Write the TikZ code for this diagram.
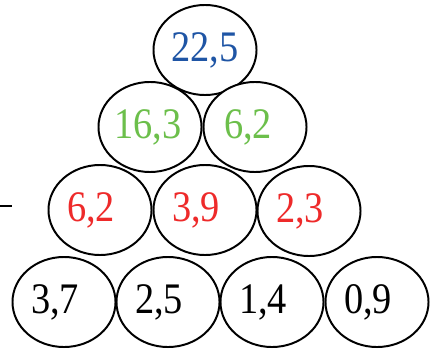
\documentclass[tikz,border=0pt]{standalone}
\usepackage{fontspec}
\setmainfont{Liberation Serif}
\newfontfamily\numfont[FakeStretch=0.88]{Liberation Serif}
\usepackage{xcolor}
\definecolor{topblue}{HTML}{1F55A5}
\definecolor{midgreen}{HTML}{6CBF4B}
\definecolor{lowred}{HTML}{EE2A2A}
\usepackage{tikz}
\usetikzlibrary{shapes.geometric}
\tikzset{
    cell/.style = {ellipse, draw=black, line width=1.4pt, fill=white,
                   minimum width=2.575cm, minimum height=2.25cm, inner sep=0pt},
    num/.style = {font=\numfont\fontsize{31}{32}\selectfont, inner sep=0pt, xshift=-0.22cm},
}

\begin{document}
\begin{tikzpicture}[x=0.025cm, y=-0.025cm]
        \useasboundingbox (0,0) rectangle (434,350);
        % top
        \node[cell, label={[num, topblue, xshift=0.22cm]center:22,5}] (top) at (205,50) {};
        % second row
        \node[cell, label={[num, midgreen, xshift=0.17cm]center:16,3}] (g1) at (150,127) {};
        \node[cell, label={[num, midgreen, xshift=0.05cm]center:6,2}] (g2) at (255,127) {};
        % third row
        \node[cell, label={[num, lowred]center:6,2}] (r1) at (100,210) {};
        \node[cell, label={[num, lowred]center:3,9}] (r2) at (205,210) {};
        \node[cell, label={[num, lowred]center:2,3}] (r3) at (309,211) {};
        % bottom row
        \node[cell, label={[num]center:3,7}] (b1) at (64,302) {};
        \node[cell, label={[num]center:2,5}] (b2) at (168,302) {};
        \node[cell, label={[num]center:1,4}] (b3) at (272,302) {};
        \node[cell, label={[num]center:0,9}] (b4) at (377,302) {};
        \coordinate (d1) at (0,206);
        \coordinate (d2) at (12,206);
        \draw[line width=1.4pt] (d1) -- (d2);
      \end{tikzpicture}
\end{document}
